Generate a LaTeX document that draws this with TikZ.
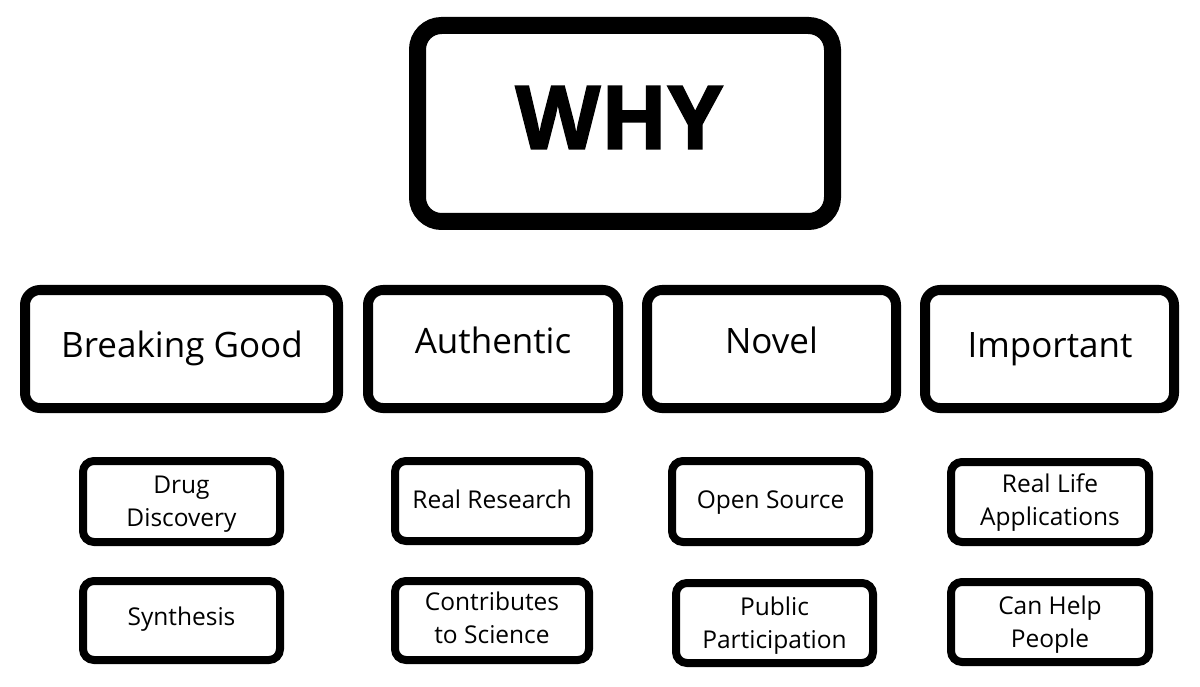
\documentclass[tikz,border=0pt]{standalone}
\usepackage{fontspec}
\setmainfont{Open Sans}
\newfontfamily\whyfont[BoldFeatures={FakeBold=1.6}]{Open Sans}
\begin{document}
\begin{tikzpicture}[x=1pt,y=-1pt,
  bigbox/.style={draw=black,line width=17pt,rounded corners=24pt,inner sep=0pt,outer sep=0pt},
  midbox/.style={draw=black,line width=10pt,rounded corners=15pt,inner sep=0pt,outer sep=0pt},
  smallbox/.style={draw=black,line width=8pt,rounded corners=11pt,inner sep=0pt,outer sep=0pt},
  bigtxt/.style={anchor=base,inner sep=0pt,font=\whyfont\fontsize{88}{100}\selectfont\bfseries},
  midtxt/.style={anchor=base,inner sep=0pt,font=\fontsize{35}{40}\selectfont},
  smalltxt/.style={anchor=base,inner sep=0pt,align=center,font=\fontsize{24.5}{33}\selectfont}]
\useasboundingbox[fill=white] (0,0) rectangle (1200,687);
% top
\node[bigbox,minimum width=415pt,minimum height=196pt] (why) at (625,123.5) {};
\node[bigtxt] (whyt) at (619,149) {WHY};
% row 2
\node[midbox,minimum width=313pt,minimum height=118pt] (bg) at (181.5,349) {};
\node[midbox,minimum width=250pt,minimum height=118pt] (au) at (493,349) {};
\node[midbox,minimum width=249pt,minimum height=118pt] (no) at (771.5,349) {};
\node[midbox,minimum width=249pt,minimum height=118pt] (im) at (1049.5,349) {};
\node[midtxt] (bgt) at (182,357) {Breaking Good};
\node[midtxt] (aut) at (493,353) {Authentic};
\node[midtxt] (not) at (771.5,353) {Novel};
\node[midtxt] (imt) at (1050,357) {Important};
% row 3
\node[smallbox,minimum width=197pt,minimum height=81pt] (dd) at (181.5,501.5) {};
\node[smallbox,minimum width=194pt,minimum height=80pt] (rr) at (492,501) {};
\node[smallbox,minimum width=197pt,minimum height=81pt] (os) at (770.5,501.5) {};
\node[smallbox,minimum width=198pt,minimum height=80pt] (rl) at (1050,502) {};
% row 4
\node[smallbox,minimum width=197pt,minimum height=79pt] (sy) at (181.5,620.5) {};
\node[smallbox,minimum width=194pt,minimum height=79pt] (cs) at (492,620.5) {};
\node[smallbox,minimum width=197pt,minimum height=80pt] (pp) at (774.5,623) {};
\node[smallbox,minimum width=198pt,minimum height=80pt] (ch) at (1050,622) {};
% small texts (anchor = baseline of last line)
\node[smalltxt] (ddt) at (181.5,526) {Drug\\Discovery};
\node[smalltxt] (rrt) at (492,508) {Real Research};
\node[smalltxt] (ost) at (770.5,508) {Open Source};
\node[smalltxt] (rlt) at (1050,525) {Real Life\\Applications};
\node[smalltxt] (syt) at (181.5,625) {Synthesis};
\node[smalltxt] (cst) at (492,643) {Contributes\\to Science};
\node[smalltxt] (ppt) at (774.5,648) {Public\\Participation};
\node[smalltxt] (cht) at (1050,647) {Can Help\\People};
\end{tikzpicture}
\end{document}
